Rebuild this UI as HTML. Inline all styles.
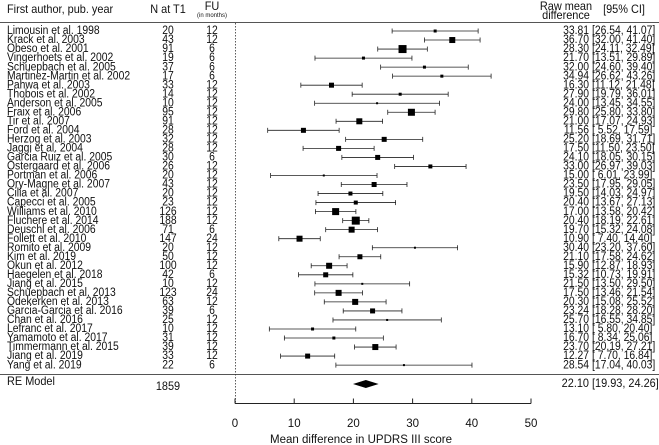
<!DOCTYPE html>
<html><head><meta charset="utf-8"><style>
html,body{margin:0;padding:0;background:#fff;}
svg{display:block;font-family:"Liberation Sans",sans-serif;}
</style></head><body>
<svg id="chart" width="659" height="445"></svg>
<script>
const authors=["Limousin et al. 1998","Krack et al. 2003","Obeso et al. 2001","Vingerhoets et al. 2002","Schuepbach et al. 2005","Martinez-Martin et al.  2002","Pahwa et al. 2003","Thobois et al. 2002","Anderson et al. 2005","Fraix et al. 2006","Tir et al. 2007","Ford et al. 2004","Herzog et al. 2003","Jaggi et al. 2004","Garcia Ruiz et al. 2005","Ostergaard et al. 2006","Portman et al. 2006","Ory-Magne et al. 2007","Cilia et al. 2007","Capecci et al. 2005","Williams et al. 2010","Fluchere et al. 2014","Deuschl et al. 2006","Follett et al. 2010","Romito et al. 2009","Kim et al. 2019","Okun et al. 2012","Haegelen et al. 2018","Jiang et al. 2015","Schuepbach et al. 2013","Odekerken et al. 2013","Garcia-Garcia et al. 2016","Chan et al. 2016","Lefranc et al. 2017","Yamamoto et al. 2017","Timmermann et al. 2015","Jiang et al. 2019","Yang et al. 2019"];
const nT1=[20,43,91,19,37,17,33,14,10,95,91,28,32,28,30,26,20,43,20,23,126,188,71,147,20,50,100,42,10,123,63,39,25,10,31,39,33,22];
const fu=[12,12,6,6,6,6,12,12,12,12,12,12,12,12,6,12,12,12,12,12,12,12,6,24,12,12,12,6,12,24,12,6,12,12,12,12,12,6];
const est=[33.81,36.70,28.30,21.70,32.00,34.94,16.30,27.90,24.00,29.80,21.00,11.56,25.20,17.50,24.10,33.00,15.00,23.50,19.50,20.40,17.00,20.40,19.70,10.90,30.40,21.10,15.90,15.32,21.50,17.50,20.30,23.24,25.70,13.10,16.70,23.70,12.27,28.54];
const lo=[26.54,32.00,24.11,13.51,24.60,26.62,11.12,19.79,13.45,25.80,17.07,5.52,18.69,11.50,18.05,26.97,6.01,17.95,14.03,13.67,13.58,18.19,15.32,7.40,23.20,17.58,12.87,10.73,13.50,13.46,15.08,18.28,16.55,5.80,8.34,20.19,7.70,17.04];
const hi=[41.07,41.40,32.49,29.89,39.40,43.26,21.48,36.01,34.55,33.80,24.93,17.59,31.71,23.50,30.15,39.03,23.99,29.05,24.97,27.13,20.42,22.61,24.08,14.40,37.60,24.62,18.93,19.91,29.50,21.54,25.52,28.20,34.85,20.40,25.06,27.21,16.84,40.03];
const boxSize=[3,6,8,3,3,3,5,3,2,7,6,5,5,5,5,4,2,5,4,4,7,8,6,6,2,5,6,5,2,6,6,5,2,3,3,6,5,2];
const reEst=22.10, reLo=19.93, reHi=24.26, reN=1859;
const xTicks=[0,10,20,30,40,50];

const NS="http://www.w3.org/2000/svg";
const svg=document.getElementById('chart');
const X=v=>235+v*5.92;
const Y=i=>31+i*9.03;
function mk(tag,attrs,txt){const e=document.createElementNS(NS,tag);for(const k in attrs)e.setAttribute(k,attrs[k]);if(txt!==undefined)e.textContent=txt;svg.appendChild(e);return e;}
function txt(x,y,s,anchor,size,sx){return mk('text',{x:0,y:0,transform:`translate(${x},${y}) scale(${sx||0.9},1)`,'font-size':size||11.5,'text-anchor':anchor||'start','dominant-baseline':'central',fill:'#111'},s);}

let e;
e=txt(7,10,"First author, pub. year","start",11.5,0.95);


e=txt(168,10,"N at T1","middle",11.5,0.95);


e=txt(212,7,"FU","middle",11.5,0.95);


e=txt(212,16,"(in months)","middle",6,1);


e=txt(566,7,"Raw mean","middle",11.5,0.95);


e=txt(566,16,"difference","middle",11.5,0.95);


e=txt(624,10,"[95% CI]","middle",11.5,0.95);



e=mk('line',{x1:0,x2:659,y1:22.5,y2:22.5,stroke:'#555','stroke-width':1});


e=mk('line',{x1:0,x2:659,y1:374.5,y2:374.5,stroke:'#555','stroke-width':1});


e=mk('line',{x1:X(0)+0.5,x2:X(0)+0.5,y1:23,y2:403,stroke:'#333','stroke-width':0.8,'stroke-dasharray':'1.5,1.5'});



for(let i=0;i<authors.length;i++){
  const y=Y(i);
  e=txt(7,y,authors[i]);
  
  
  e=txt(168,y,String(nT1[i]),"middle");
  
  
  e=txt(212,y,String(fu[i]),"middle");
  
  
  e=mk('line',{x1:X(lo[i]),x2:X(hi[i]),y1:y,y2:y,stroke:'#222','stroke-width':0.8});
  
  
  e=mk('line',{x1:X(lo[i]),x2:X(lo[i]),y1:y-2.5,y2:y+2.5,stroke:'#222','stroke-width':0.8});
  
  
  e=mk('line',{x1:X(hi[i]),x2:X(hi[i]),y1:y-2.5,y2:y+2.5,stroke:'#222','stroke-width':0.8});
  
  
  const s=boxSize[i];
  e=mk('rect',{x:X(est[i])-s/2,y:y-s/2,width:s,height:s,fill:'#000'});
  
  
  e=txt(589,y,est[i].toFixed(2),"end");
  
  
  const f=v=>(v<10?' ':'')+v.toFixed(2);
  e=txt(592,y,"["+f(lo[i])+", "+f(hi[i])+"]");
  
  
  e.setAttribute('xml:space','preserve');
}

const ry=384;
e=txt(7,ry-2,"RE Model","start",11.5,0.95);


e=txt(168,ry+3,String(reN),"middle",11.5,0.95);


e=mk('polygon',{points:`${X(reLo)},${ry} ${X(reEst)},${ry-4} ${X(reHi)},${ry} ${X(reEst)},${ry+4}`,fill:'#000'});


e=txt(589,ry,reEst.toFixed(2),"end",11.5,0.95);


e=txt(592,ry,"["+reLo.toFixed(2)+", "+reHi.toFixed(2)+"]","start",11.5,0.95);



const ay=403.5;
e=mk('line',{x1:X(xTicks[0]),x2:X(xTicks[xTicks.length-1]),y1:ay,y2:ay,stroke:'#222','stroke-width':1});


xTicks.forEach(t=>{
  e=mk('line',{x1:X(t),x2:X(t),y1:ay-5,y2:ay,stroke:'#222','stroke-width':1});
  
  
  e=txt(X(t),424,String(t),"middle",11.5,1);
  
  
});
e=txt(X(0)+(X(50)-X(0))/2-22,440,"Mean difference in UPDRS III score","middle",11.5,1);


</script>
</body></html>
